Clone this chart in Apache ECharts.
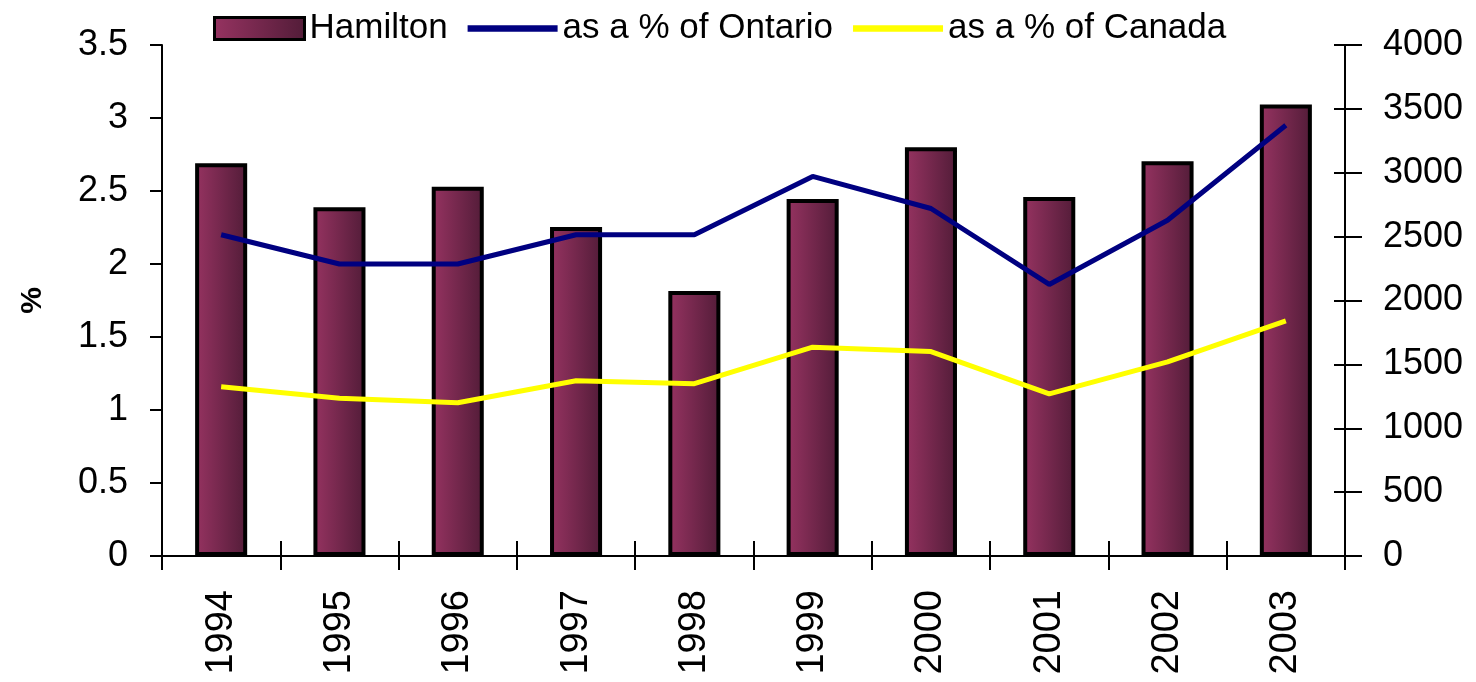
<!DOCTYPE html>
<html>
<head>
<meta charset="utf-8">
<script src="https://cdn.jsdelivr.net/npm/echarts@6/dist/echarts.min.js"></script>
<style>
  html, body { margin: 0; padding: 0; background: #fff; }
  #main { width: 1476px; height: 682px; }
</style>
</head>
<body>
<div id="main"></div>
<script>
// years on the category axis
const years = ['1994', '1995', '1996', '1997', '1998', '1999', '2000', '2001', '2002', '2003']
// Hamilton counts (right axis)
const hamilton = [3075, 2730, 2890, 2575, 2075, 2795, 3200, 2810, 3090, 3535]
// share of Ontario, % (left axis)
const pctOntario = [2.2, 2.0, 2.0, 2.2, 2.2, 2.6, 2.38, 1.86, 2.3, 2.95]
// share of Canada, % (left axis)
const pctCanada = [1.16, 1.08, 1.05, 1.2, 1.18, 1.43, 1.4, 1.11, 1.33, 1.61]

const chart = echarts.init(document.getElementById('main'))
const font = 'Liberation Sans, Arial, sans-serif'

// left-to-right shading of the bars
const barFill = new echarts.graphic.LinearGradient(0, 0, 1, 0, [
    { offset: 0, color: '#963361' },
    { offset: 1, color: '#521c38' }
])

const option = {
    backgroundColor: '#fff',
    animation: false,
    textStyle: { fontFamily: font },
    grid: { left: 162, right: 131, top: 45, bottom: 126, outerBoundsMode: 'none' },
    legend: {
        top: 6,
        left: 208,
        itemWidth: 90,
        itemHeight: 22,
        itemGap: 20,
        textStyle: { fontSize: 35, color: '#000', fontFamily: font },
        data: [
            { name: 'Hamilton', icon: 'rect', itemStyle: { color: barFill, borderColor: '#000', borderWidth: 3 } },
            { name: 'as a % of Ontario', icon: 'path://M0,0 L10,0 L10,0.7 L0,0.7 Z' },
            { name: 'as a % of Canada', icon: 'path://M0,0 L10,0 L10,0.7 L0,0.7 Z' }
        ]
    },
    xAxis: [
        {
            type: 'category',
            data: years,
            axisLine: { lineStyle: { color: '#000', width: 2 } },
            axisTick: { show: true, length: 14, lineStyle: { color: '#000', width: 2 } },
            axisLabel: { rotate: 90, fontSize: 38, color: '#000', margin: 34 }
        },
        {
            type: 'category',
            data: years,
            position: 'bottom',
            axisLine: { show: false },
            axisTick: { show: true, inside: true, length: 15, lineStyle: { color: '#000', width: 2 } },
            axisLabel: { show: false }
        }
    ],
    yAxis: [
        {
            type: 'value',
            min: 0,
            max: 3.5,
            interval: 0.5,
            name: '%',
            nameLocation: 'middle',
            nameGap: 114,
            nameRotate: 90,
            nameTextStyle: { fontSize: 30, fontWeight: 'bold', color: '#000' },
            axisLine: { show: true, lineStyle: { color: '#000', width: 2 } },
            axisTick: { show: true, length: 12, lineStyle: { color: '#000', width: 2 } },
            axisLabel: { fontSize: 36, color: '#000', margin: 34 },
            splitLine: { show: false }
        },
        {
            type: 'value',
            min: 0,
            max: 4000,
            interval: 500,
            position: 'right',
            axisLine: { show: true, lineStyle: { color: '#000', width: 2 } },
            axisTick: { show: true, length: 17, lineStyle: { color: '#000', width: 2 } },
            axisLabel: { fontSize: 36, color: '#000', margin: 38, formatter: v => String(v) },
            splitLine: { show: false }
        },
        {
            type: 'value',
            min: 0,
            max: 4000,
            interval: 500,
            position: 'right',
            axisLine: { show: false },
            axisTick: { show: true, inside: true, length: 11, lineStyle: { color: '#000', width: 2 } },
            axisLabel: { show: false },
            splitLine: { show: false }
        }
    ],
    series: [
        {
            name: 'Hamilton',
            type: 'bar',
            yAxisIndex: 1,
            data: hamilton,
            barWidth: '44%',
            itemStyle: { color: barFill, borderColor: '#000', borderWidth: 4 }
        },
        {
            name: 'as a % of Ontario',
            type: 'line',
            yAxisIndex: 0,
            data: pctOntario,
            symbol: 'none',
            lineStyle: { color: '#000080', width: 5 },
            itemStyle: { color: '#000080' }
        },
        {
            name: 'as a % of Canada',
            type: 'line',
            yAxisIndex: 0,
            data: pctCanada,
            symbol: 'none',
            lineStyle: { color: '#ffff00', width: 5 },
            itemStyle: { color: '#ffff00' }
        }
    ]
}

chart.setOption(option)
</script>
</body>
</html>
